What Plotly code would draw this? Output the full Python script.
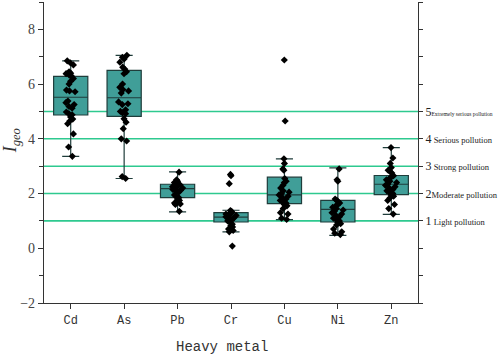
import plotly.graph_objects as go

metals = ["Cd", "As", "Pb", "Cr", "Cu", "Ni", "Zn"]

# precomputed box statistics
q1 = [4.87, 4.82, 1.85, 0.96, 1.63, 0.96, 1.96]
median = [5.52, 5.50, 2.18, 1.14, 1.95, 1.42, 2.34]
q3 = [6.28, 6.50, 2.34, 1.30, 2.60, 1.75, 2.66]
lower = [3.36, 2.55, 1.33, 0.60, 1.05, 0.47, 1.24]
upper = [6.85, 7.05, 2.79, 1.39, 3.27, 2.94, 3.68]

# sample points
cd_pts = [6.85, 6.78, 6.7, 6.45, 6.4, 6.38, 6.33, 6.3, 6.2, 6.1, 6.0, 5.78, 5.75, 5.72,
          5.38, 5.32, 5.25, 5.18, 5.12, 4.98, 4.92, 4.88, 4.8, 4.72, 4.65, 4.55, 4.18, 3.7, 3.36]
as_pts = [7.05, 6.98, 6.92, 6.8, 6.62, 6.55, 6.45, 6.38, 6.0, 5.88, 5.8, 5.75, 5.67, 5.35,
          5.28, 5.25, 5.06, 5.0, 4.95, 4.92, 4.73, 4.61, 4.37, 4.0, 3.92, 2.62, 2.55]
pb_pts = [2.78, 2.5, 2.45, 2.4, 2.38, 2.35, 2.32, 2.3, 2.28, 2.25, 2.22, 2.2, 2.18, 2.15,
          2.12, 2.1, 2.05, 1.95, 1.9, 1.85, 1.8, 1.75, 1.7, 1.65, 1.62, 1.6, 1.35]
cr_pts = [2.7, 2.65, 2.36, 1.38, 1.35, 1.32, 1.3, 1.28, 1.25, 1.22, 1.2, 1.18, 1.15, 1.12,
          1.1, 1.05, 1.0, 0.95, 0.88, 0.82, 0.78, 0.75, 0.7, 0.65, 0.6, 0.08]
cu_pts = [6.88, 4.65, 3.27, 3.1, 2.9, 2.85, 2.55, 2.45, 2.4, 2.3, 2.2, 2.1, 2.05, 2.0,
          1.95, 1.9, 1.85, 1.8, 1.75, 1.7, 1.65, 1.6, 1.55, 1.45, 1.3, 1.25, 1.1, 1.05]
ni_pts = [2.9, 2.5, 2.45, 1.8, 1.75, 1.7, 1.65, 1.6, 1.55, 1.5, 1.45, 1.4, 1.35, 1.3,
          1.25, 1.2, 1.15, 1.1, 1.05, 1.0, 0.95, 0.9, 0.85, 0.7, 0.6, 0.55, 0.5]
zn_pts = [3.68, 3.3, 3.1, 2.95, 2.85, 2.8, 2.75, 2.65, 2.6, 2.55, 2.5, 2.45, 2.4, 2.35,
          2.3, 2.25, 2.2, 2.15, 2.1, 2.05, 2.0, 1.95, 1.9, 1.85, 1.75, 1.6, 1.45, 1.25]
points = [cd_pts, as_pts, pb_pts, cr_pts, cu_pts, ni_pts, zn_pts]

# pollution levels (right axis)
levels = [1, 2, 3, 4, 5]
level_names = ["Light pollution", "Moderate pollution", "Strong pollution",
               "Serious pollution", "Extremely serious pollution"]
level_sep = [" ", "", " ", " ", ""]

fig = go.Figure()

fig.add_trace(go.Box(
    x=metals, q1=q1, median=median, q3=q3, lowerfence=lower, upperfence=upper,
    fillcolor="#409e98", line=dict(color="#1f3d3b", width=1.2),
    width=0.64, whiskerwidth=0.5, boxpoints=False, showlegend=False,
))

for m, pts in zip(metals, points):
    fig.add_trace(go.Box(
        x=[m] * len(pts), y=pts, boxpoints="all", jitter=0.35, pointpos=0,
        width=0.64, fillcolor="rgba(0,0,0,0)", line=dict(color="rgba(0,0,0,0)", width=0),
        marker=dict(symbol="diamond", size=5.5, color="black"),
        showlegend=False, hoverinfo="y",
    ))

# invisible trace to activate right axis
fig.add_trace(go.Scatter(x=[metals[0]], y=[levels[0]], yaxis="y2", mode="markers",
                         marker=dict(opacity=0), showlegend=False, hoverinfo="skip"))

for lv in levels:
    fig.add_shape(type="line", xref="x domain", yref="y", x0=0, x1=1, y0=lv, y1=lv,
                  line=dict(color="#2ec98f", width=1.6), layer="below")

right_vals = list(range(-2, 10))
right_text = []
for v in right_vals:
    if v in levels:
        i = levels.index(v)
        fs = 5.5 if v == 5 else 8.5
        right_text.append(f"{v}<span style='font-size:{fs}px'>{level_sep[i]}{level_names[i]}</span>")
    else:
        right_text.append("")

fig.update_layout(
    width=498, height=354,
    margin=dict(l=44, r=80, t=2, b=51),
    plot_bgcolor="white", paper_bgcolor="white",
    boxmode="overlay",
    showlegend=False,
    xaxis=dict(
        range=[-0.5, 6.5], showline=True, linecolor="#333", linewidth=1.2,
        ticks="outside", ticklen=5, tickcolor="#333", showgrid=False, automargin=False,
        tickfont=dict(family="Liberation Mono", size=12, color="#333"),
    ),
    yaxis=dict(
        range=[-2, 9], showline=True, linecolor="#333", linewidth=1.2,
        ticks="outside", ticklen=5, tickcolor="#333", showgrid=False, zeroline=False,
        tickvals=[-2, 0, 2, 4, 6, 8], automargin=False,
        minor=dict(ticks="outside", ticklen=4, dtick=1, tickcolor="#333"),
        tickfont=dict(family="Liberation Serif", size=14, color="#444"),
    ),
    yaxis2=dict(
        range=[-2, 9], overlaying="y", side="right", showline=True, linecolor="#333",
        linewidth=1.2, ticks="outside", ticklen=4, tickcolor="#333", showgrid=False,
        zeroline=False, tickvals=right_vals, ticktext=right_text, automargin=False,
        tickfont=dict(family="Liberation Serif", size=12, color="#222"),
    ),
    annotations=[
        dict(text="Heavy metal", xref="paper", yref="paper", x=0.476, y=-0.145,
             xanchor="center", yanchor="middle", showarrow=False,
             font=dict(family="Liberation Mono", size=14, color="#333")),
        dict(text="<i>I</i><sub><i>geo</i></sub>", xref="paper", yref="paper",
             x=-0.086, y=0.54, xanchor="center", yanchor="middle", showarrow=False,
             textangle=-90, font=dict(family="Liberation Serif", size=18, color="#333")),
    ],
)

fig.write_html("out.html", config={"displayModeBar": False},
               post_script="document.body.style.margin='0';")
